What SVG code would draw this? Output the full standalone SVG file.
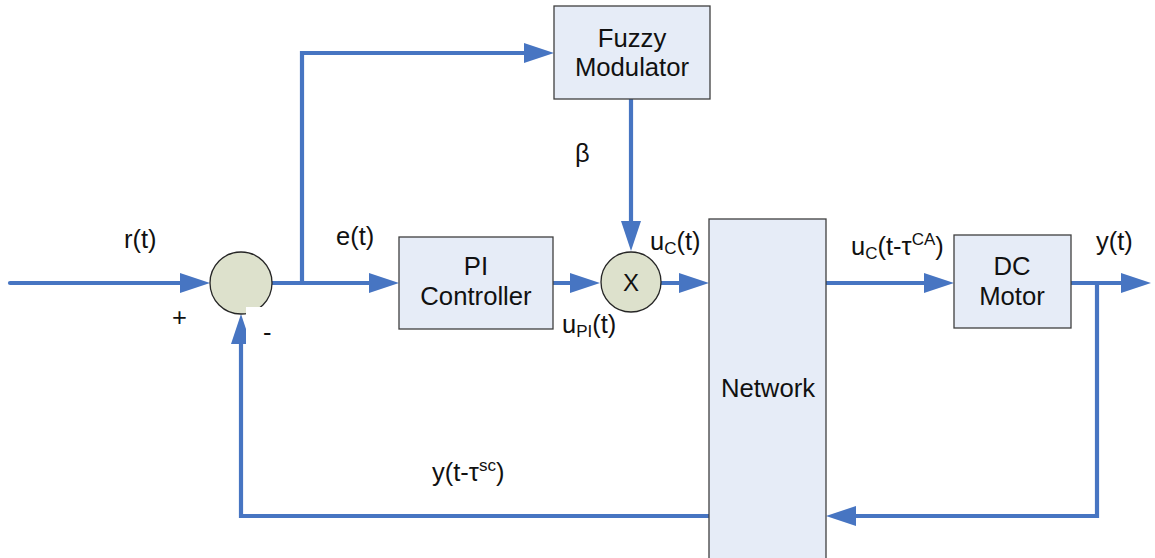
<svg xmlns="http://www.w3.org/2000/svg" width="1155" height="558" viewBox="0 0 1155 558">
  <style>
    .box { fill: #E6ECF7; stroke: #3F3F3F; stroke-width: 1.3; }
    .junction { fill: #DDE1CC; stroke: #262626; stroke-width: 1.3; }
    .wire { fill: none; stroke: #4775C2; stroke-width: 4.2; stroke-linejoin: miter; }
    .txt { font-family: "Liberation Sans", Arial, sans-serif; fill: #111111; }
    .node-label { font-size: 25.7px; text-anchor: middle; }
    .sig { font-size: 25.5px; }
    .small { font-size: 17px; }
  </style>
  <defs>
    <marker id="arrow" markerUnits="userSpaceOnUse" markerWidth="30" markerHeight="20" refX="20" refY="10" orient="auto" overflow="visible">
      <path d="M0,0 L30,10 L0,20 z" fill="#4775C2"/>
    </marker>
  </defs>

  <rect width="1155" height="558" fill="#FFFFFF"/>

  <!-- signal connections -->
  <g id="connectors">
    <path class="wire" d="M10,283 H200" stroke-linecap="round" marker-end="url(#arrow)"/>
    <path class="wire" d="M272,283 H389" marker-end="url(#arrow)"/>
    <path class="wire" d="M302,283 V53 H544" marker-end="url(#arrow)"/>
    <path class="wire" d="M631,99 V241" marker-end="url(#arrow)"/>
    <path class="wire" d="M553,283 H590" marker-end="url(#arrow)"/>
    <path class="wire" d="M661,283 H699" marker-end="url(#arrow)"/>
    <path class="wire" d="M826,283 H944" marker-end="url(#arrow)"/>
    <path class="wire" d="M1071,283 H1141" marker-end="url(#arrow)"/>
    <path class="wire" d="M1097,283 V516 H836" marker-end="url(#arrow)"/>
    <path class="wire" d="M709,516 H241 V324" marker-end="url(#arrow)"/>
  </g>

  <!-- blocks -->
  <g id="fuzzy-modulator">
    <rect class="box" x="554" y="6" width="156" height="93"/>
    <text class="txt node-label" x="632" y="47">Fuzzy</text>
    <text class="txt node-label" x="632" y="76">Modulator</text>
  </g>

  <g id="pi-controller">
    <rect class="box" x="399" y="237" width="154" height="92"/>
    <text class="txt node-label" x="476" y="275">PI</text>
    <text class="txt node-label" x="476" y="305">Controller</text>
  </g>

  <g id="network">
    <rect class="box" x="709" y="219" width="117" height="345"/>
    <text class="txt node-label" x="768" y="397">Network</text>
  </g>

  <g id="dc-motor">
    <rect class="box" x="954" y="235" width="117" height="93"/>
    <text class="txt node-label" x="1012" y="275">DC</text>
    <text class="txt node-label" x="1012" y="305">Motor</text>
  </g>

  <g id="summing-junction">
    <circle class="junction" cx="241" cy="283" r="31"/>
  </g>

  <g id="multiplier">
    <circle class="junction" cx="631" cy="282" r="30"/>
    <text class="txt" x="631" y="291" font-size="24" text-anchor="middle">X</text>
  </g>

  <!-- signal names -->
  <g id="labels">
    <text class="txt sig" x="124" y="248">r(t)</text>
    <text class="txt sig" x="336" y="245">e(t)</text>
    <text class="txt sig" x="172" y="326" font-size="22">+</text>
    <rect x="246" y="307" width="36" height="38" fill="#FFFFFF"/>
    <text class="txt sig" x="263" y="341">-</text>
    <text class="txt sig" x="575" y="162">β</text>
    <text class="txt sig" x="650" y="250">u<tspan class="small" dy="4">C</tspan><tspan dy="-4">(t)</tspan></text>
    <text class="txt sig" x="562" y="333">u<tspan class="small" dy="4">PI</tspan><tspan dy="-4">(t)</tspan></text>
    <text class="txt sig" x="851" y="255">u<tspan class="small" dy="4">C</tspan><tspan dy="-4">(t-τ</tspan><tspan class="small" dy="-10">CA</tspan><tspan dy="10">)</tspan></text>
    <text class="txt sig" x="1096" y="250">y(t)</text>
    <text class="txt sig" x="432" y="481">y(t-τ<tspan class="small" dy="-10">sc</tspan><tspan dy="10">)</tspan></text>
  </g>
</svg>
